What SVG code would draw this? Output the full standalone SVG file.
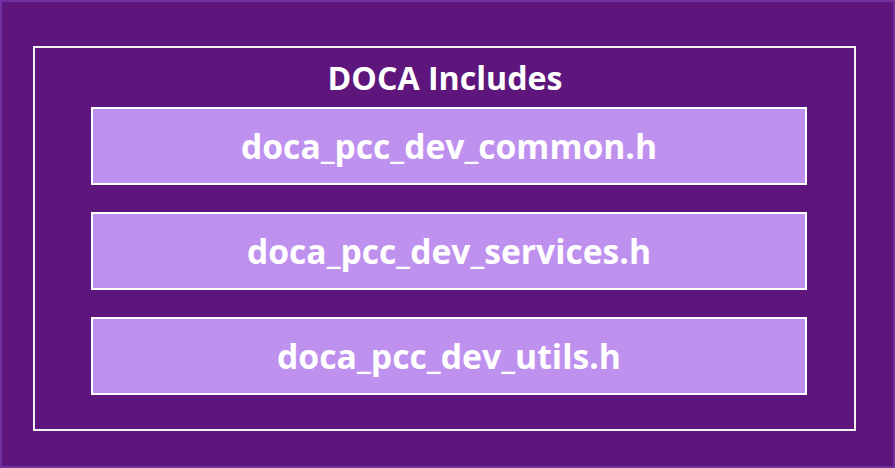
<svg xmlns="http://www.w3.org/2000/svg" width="895" height="468" viewBox="0 0 895 468">
<style>
.t{font-family:"Open Sans","Noto Sans",sans-serif;font-weight:bold;fill:#ffffff;text-anchor:middle;}
.box{fill:#bf91ef;stroke:#ffffff;stroke-width:2;}
</style>
<rect x="1" y="1" width="893" height="466" fill="#5e167d" stroke="#7030a0" stroke-width="2"/>
<g id="doca-includes">
<rect x="34" y="47" width="821" height="383" fill="none" stroke="#f2f2f2" stroke-width="2"/>
<text class="t" x="445" y="90" font-size="32" textLength="235" lengthAdjust="spacingAndGlyphs">DOCA Includes</text>
</g>
<g id="common">
<rect class="box" x="92" y="108" width="714" height="76"/>
<text class="t" x="449" y="159" font-size="34" textLength="416" lengthAdjust="spacingAndGlyphs">doca_pcc_dev_common.h</text>
</g>
<g id="services">
<rect class="box" x="92" y="213" width="714" height="76"/>
<text class="t" x="449" y="264" font-size="34" textLength="404" lengthAdjust="spacingAndGlyphs">doca_pcc_dev_services.h</text>
</g>
<g id="utils">
<rect class="box" x="92" y="318" width="714" height="76"/>
<text class="t" x="449" y="369" font-size="34" textLength="344" lengthAdjust="spacingAndGlyphs">doca_pcc_dev_utils.h</text>
</g>
<g id="connectors"></g>
</svg>
